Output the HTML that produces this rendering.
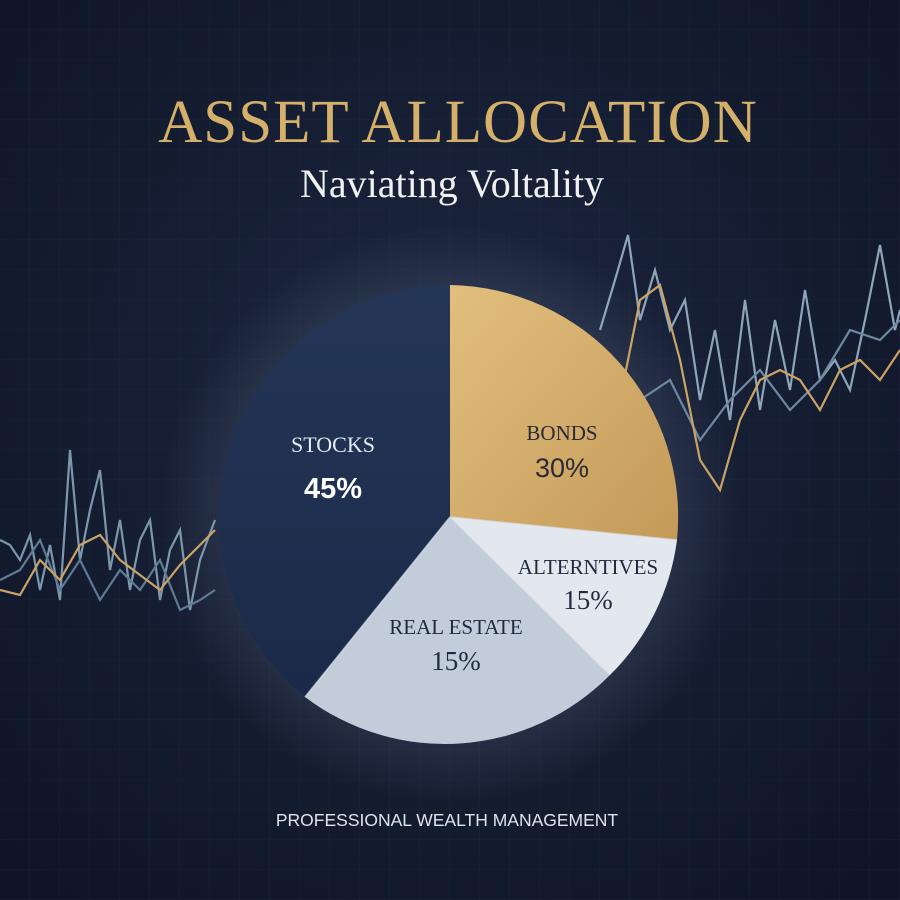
<!DOCTYPE html>
<html><head><meta charset="utf-8"><style>
html,body{margin:0;padding:0;background:#131b2e;}
svg{display:block}
</style></head><body>
<svg width="900" height="900" viewBox="0 0 900 900" xmlns="http://www.w3.org/2000/svg">
<defs>
<radialGradient id="bg" cx="50%" cy="45%" r="70%">
<stop offset="0" stop-color="#1c2740"/><stop offset="1" stop-color="#0f1526"/>
</radialGradient>
<radialGradient id="glow" cx="450" cy="515" r="290" gradientUnits="userSpaceOnUse">
<stop offset="0.75" stop-color="#8a96b0" stop-opacity="0.16"/><stop offset="1" stop-color="#8a96b0" stop-opacity="0"/>
</radialGradient>
<linearGradient id="gold" x1="0" y1="0" x2="1" y2="1">
<stop offset="0" stop-color="#e2bf7e"/><stop offset="1" stop-color="#c49a58"/>
</linearGradient>
<linearGradient id="stk" x1="0" y1="0" x2="0" y2="1">
<stop offset="0" stop-color="#243658"/><stop offset="1" stop-color="#1a2a48"/>
</linearGradient>
<pattern id="grid" width="30" height="30" patternUnits="userSpaceOnUse">
<path d="M30 0V30H0" fill="none" stroke="#2a3550" stroke-width="0.6" opacity="0.5"/>
</pattern>
</defs>
<rect width="900" height="900" fill="url(#bg)"/>
<rect width="900" height="900" fill="url(#grid)"/>
<circle cx="450" cy="515" r="290" fill="url(#glow)"/>
<g fill="none" stroke-width="2.2">
<polyline stroke="#7d97ad" points="0,540 10,545 20,560 30,535 40,590 50,545 60,600 70,450 80,560 90,510 100,470 110,570 120,520 130,590 140,540 150,520 160,600 170,550 180,530 190,610 200,560 215,520 "/>
<polyline stroke="#5f7a94" points="0,580 20,570 40,540 60,590 80,560 100,600 120,570 140,590 160,560 180,610 200,600 215,590"/>
<polyline stroke="#c9a466" points="0,590 20,595 40,560 60,580 80,545 100,535 120,560 140,575 160,590 180,565 200,545 215,530"/>
<polyline stroke="#8ea6ba" points="600,330 615,280 628,235 640,320 655,270 670,330 685,300 700,400 715,330 730,420 745,300 760,410 775,320 790,390 805,290 820,380 835,360 850,390 865,320 880,245 895,330 900,310"/>
<polyline stroke="#6f89a2" points="640,400 670,380 700,440 730,400 760,370 790,410 820,380 850,330 880,340 900,320"/>
<polyline stroke="#c9a466" points="620,400 640,300 660,285 680,360 700,460 720,490 740,420 760,380 780,370 800,380 820,410 840,370 860,360 880,380 900,350"/>
</g>
<g>
<path d="M450,517 L450,285 A232,232 0 0 1 677,540 Z" fill="url(#gold)"/>
<path d="M450,517 L677,540 A232,232 0 0 1 610,675 Z" fill="#e3e8ef"/>
<path d="M450,517 L610,675 A232,232 0 0 1 305,697 Z" fill="#c3cdda"/>
<path d="M450,517 L305,697 A232,232 0 0 1 450,285 Z" fill="url(#stk)"/>
<g stroke="#dfe5ee" stroke-width="1.5" fill="none" opacity="0.7">
<line x1="450" y1="517" x2="677" y2="540"/><line x1="450" y1="517" x2="610" y2="675"/><line x1="450" y1="517" x2="305" y2="697"/>
</g>
</g>
<g font-family="Liberation Serif, serif" text-anchor="middle">
<text x="458" y="142" font-size="61" fill="#d4b06a" letter-spacing="1">ASSET ALLOCATION</text>
<text x="452" y="197" font-size="40" fill="#f1f1f1">Naviating Voltality</text>
<text x="333" y="452" font-size="22" fill="#e6ebf2">STOCKS</text>
<text x="333" y="498" font-size="29" fill="#ffffff" font-weight="bold" font-family="Liberation Sans, sans-serif">45%</text>
<text x="562" y="440" font-size="21" fill="#2a2a36">BONDS</text>
<text x="562" y="477" font-size="27" fill="#2a2a36" font-family="Liberation Sans, sans-serif">30%</text>
<text x="588" y="574" font-size="21" fill="#1e2a40">ALTERNTIVES</text>
<text x="588" y="609" font-size="27" fill="#1e2a40">15%</text>
<text x="456" y="634" font-size="21" fill="#1e2a40">REAL ESTATE</text>
<text x="456" y="670" font-size="27" fill="#1e2a40">15%</text>
</g>
<text x="447" y="826" text-anchor="middle" font-family="Liberation Sans, sans-serif" font-size="17.5" fill="#dfe3ea">PROFESSIONAL WEALTH MANAGEMENT</text>
</svg>
</body></html>
